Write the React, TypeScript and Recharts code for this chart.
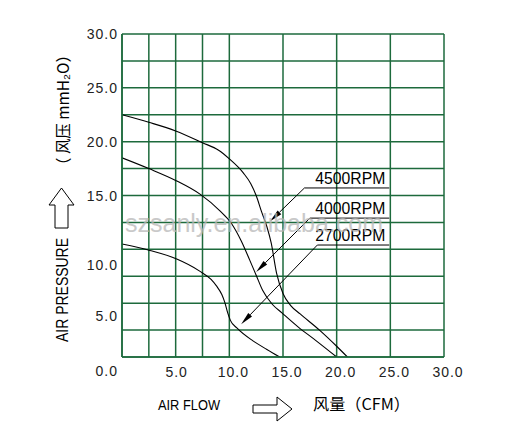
import { LineChart, Line, XAxis, YAxis, CartesianGrid, ReferenceLine } from 'recharts';

// axis ticks (every 2.5 gives the grid, only multiples of 5 are labelled)
const gridTicks = [0, 2.5, 5, 7.5, 10, 12.5, 15, 17.5, 20, 22.5, 25, 27.5, 30];

// fan curves: [airflow CFM, pressure mmH2O]
const rpm4500: [number, number][] = [
  [0, 22.5], [2.5, 21.8], [5, 21.0], [7.5, 19.9], [9, 19.2], [10, 18.4], [11.3, 17.1], [12, 16.1],
  [12.5, 15.0], [13, 13.5], [13.5, 12.1], [13.9, 10.6], [14.4, 7.8], [15, 5.9], [15.7, 4.8],
  [16.6, 4.0], [18.4, 2.5], [20, 1.0], [21, 0],
];
const rpm4000: [number, number][] = [
  [0, 18.5], [2.5, 17.5], [5, 16.4], [7.3, 15.1], [9.1, 13.6], [10.2, 12.4], [11.1, 10.8],
  [11.9, 9.0], [12.5, 7.6], [13.1, 6.2], [14, 4.9], [14.9, 4.1], [16.4, 2.8], [18.1, 1.5], [20, 0],
];
const rpm2700: [number, number][] = [
  [0, 10.5], [2.6, 9.9], [5.1, 9.1], [7.2, 8.0], [8.3, 7.2], [8.8, 6.6], [9.3, 5.8], [9.6, 5.0],
  [9.85, 4.1], [10.1, 3.4], [10.7, 2.7], [12.2, 1.5], [13.5, 0.7], [14.7, 0],
];

// callouts: label, underline start/end, arrow tip (data units)
const callouts = [
  { name: '4500RPM', from: [17.0, 15.7], to: [24.9, 15.7], tip: [13.8, 12.6] },
  { name: '4000RPM', from: [17.5, 12.9], to: [24.9, 12.9], tip: [12.5, 7.9] },
  { name: '2700RPM', from: [18.2, 10.4], to: [24.9, 10.4], tip: [11.1, 3.05] },
];

const toRows = (pts: [number, number][]) => pts.map(([x, y]) => ({ x, y }));

const GREEN = '#1d6a3c';
const tickFont = 'Liberation Sans, Arial, sans-serif';
const yShift: Record<number, number> = { 0: 14, 5: 13, 10: 16 };

const YTick = (props: any) => {
  const { y, payload } = props;
  const v = payload.value as number;
  if (v % 5 !== 0) return <g />;
  return (
    <text x={118} y={y + (yShift[v] ?? 0)} textAnchor="end" dominantBaseline="central"
      fontFamily={tickFont} fontSize={14} letterSpacing={1} fill="#222">
      {v.toFixed(1)}
    </text>
  );
};

const XTick = (props: any) => {
  const { x, payload } = props;
  const v = payload.value as number;
  if (v % 5 !== 0 || v === 0) return <g />;
  return (
    <text x={x + (v === 5 ? 1 : 4)} y={372} textAnchor="middle" dominantBaseline="central"
      fontFamily={tickFont} fontSize={14} letterSpacing={1} fill="#222">
      {v.toFixed(1)}
    </text>
  );
};

const Leader = (props: any) => {
  const { x1, y1, x2, y2 } = props;
  const dx = x2 - x1, dy = y2 - y1;
  const len = Math.sqrt(dx * dx + dy * dy);
  const ux = dx / len, uy = dy / len;
  const hl = 13, hw = 2.6;
  const bx = x2 - ux * hl, by = y2 - uy * hl;
  return (
    <g>
      <line x1={x1} y1={y1} x2={bx} y2={by} stroke="#000" strokeWidth={1} />
      <polygon fill="#000"
        points={`${x2},${y2} ${bx - uy * hw},${by + ux * hw} ${bx + uy * hw},${by - ux * hw}`} />
    </g>
  );
};

const Underline = (name: string) => (props: any) => {
  const { x1, y1, x2, y2 } = props;
  return (
    <g>
      <line x1={x1} y1={y1} x2={x2} y2={y2} stroke="#000" strokeWidth={1} />
      <text x={x2 - 4} y={y1 - 4} textAnchor="end" fontFamily={tickFont} fontSize={16}
        textLength={70} lengthAdjust="spacingAndGlyphs" fill="#000">{name}</text>
    </g>
  );
};

const App = () => {
  return (
    <div style={{ position: 'absolute', left: 0, top: 0, width: 508, height: 445, background: '#fff' }}>
      <LineChart width={508} height={445} margin={{ top: 34, right: 64, bottom: 58, left: 0 }}>
        <CartesianGrid stroke={GREEN} strokeWidth={1.5} />
        <XAxis type="number" dataKey="x" domain={[0, 30]} ticks={gridTicks} height={30}
          axisLine={{ stroke: GREEN, strokeWidth: 1.5 }} tickLine={false} tick={<XTick />}
          allowDataOverflow />
        <YAxis type="number" dataKey="y" domain={[0, 30]} ticks={gridTicks} width={122}
          axisLine={{ stroke: GREEN, strokeWidth: 1.5 }} tickLine={false} tick={<YTick />}
          allowDataOverflow />
        <Line data={toRows(rpm4500)} dataKey="y" type="monotone" stroke="#000" strokeWidth={1.1}
          dot={false} isAnimationActive={false} />
        <Line data={toRows(rpm4000)} dataKey="y" type="monotone" stroke="#000" strokeWidth={1.1}
          dot={false} isAnimationActive={false} />
        <Line data={toRows(rpm2700)} dataKey="y" type="monotone" stroke="#000" strokeWidth={1.1}
          dot={false} isAnimationActive={false} />
        {callouts.map((c) => (
          <ReferenceLine key={c.name + 'u'}
            segment={[{ x: c.from[0], y: c.from[1] }, { x: c.to[0], y: c.to[1] }]}
            shape={Underline(c.name)} />
        ))}
        {callouts.map((c) => (
          <ReferenceLine key={c.name + 'l'}
            segment={[{ x: c.from[0], y: c.from[1] }, { x: c.tip[0], y: c.tip[1] }]}
            shape={Leader} />
        ))}
      </LineChart>
      <svg width={508} height={445} style={{ position: 'absolute', left: 0, top: 0, pointerEvents: 'none' }}>
        <text x={125} y={232} fontFamily={tickFont} fontSize={26} textLength={258}
          lengthAdjust="spacingAndGlyphs" fill="#b8b8b8" opacity={0.75}>szsanly.en.alibaba.com</text>
        {/* x title */}
        <text x={158} y={410} fontFamily={tickFont} fontSize={15} textLength={62}
          lengthAdjust="spacingAndGlyphs" fill="#000">AIR FLOW</text>
        <polygon points="253,405 277,405 277,397 292,409 277,421 277,413 253,413"
          fill="none" stroke="#000" strokeWidth={1} />
        <text x={313} y={410} fontFamily="Noto Sans CJK SC, sans-serif" fontSize={16} textLength={97}
          lengthAdjust="spacingAndGlyphs" fill="#000">风量（CFM）</text>
        {/* y title */}
        <g transform="translate(62,290) rotate(-90)">
          <text x={0} y={0} textAnchor="middle" dominantBaseline="central" fontFamily={tickFont}
            fontSize={16} textLength={104} lengthAdjust="spacingAndGlyphs" fill="#000">AIR PRESSURE</text>
        </g>
        <polygon points="55,228 55,205 49,205 61.5,188 74,205 68,205 68,228"
          fill="none" stroke="#000" strokeWidth={1} />
        <g transform="translate(62,110) rotate(-90)">
          <text x={0} y={0} textAnchor="middle" dominantBaseline="central"
            fontFamily="Noto Sans CJK SC, sans-serif" fontSize={16} textLength={126}
            lengthAdjust="spacingAndGlyphs" fill="#000">（ 风压  mmH₂O）</text>
        </g>
      </svg>
    </div>
  );
};

export default App;
